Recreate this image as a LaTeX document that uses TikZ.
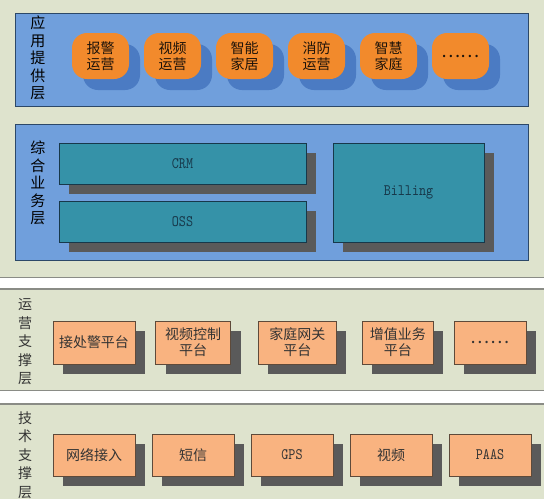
\documentclass[tikz,border=0pt]{standalone}
\usepackage{fontspec}
\setmainfont{Noto Sans CJK SC}
\newfontfamily\latinmono[FakeStretch=0.84, Extension=.otf]{lmmono10-regular}
\usetikzlibrary{shadows}
\definecolor{bgc}{HTML}{DEE3CD}
\definecolor{sepln}{HTML}{8A8C86}
\definecolor{panelc}{HTML}{709FDC}
\definecolor{panelln}{HTML}{2C4868}
\definecolor{appc}{HTML}{F28A2C}
\definecolor{appsh}{HTML}{4B7BC3}
\definecolor{tealc}{HTML}{3592A8}
\definecolor{tealln}{HTML}{17384A}
\definecolor{darksh}{HTML}{5A5A5A}
\definecolor{salc}{HTML}{F9B380}
\definecolor{salln}{HTML}{5E4A3A}
\tikzset{
  txt/.style={font=\fontsize{14}{16}\selectfont},
  mono/.style={font=\latinmono\fontsize{16}{18}\selectfont},
  lab/.style={align=center, inner sep=0pt, font=\fontsize{15}{17.5}\selectfont, text=black},
  sublab/.style={lab, font=\fontsize{14}{18.5}\selectfont, text=black!80},
  layer/.style={draw=panelln, fill=panelc, line width=0.9pt},
  sep/.style={draw=sepln, line width=1.2pt},
  % rounded orange boxes of the top layer
  app/.style={txt, fill=appc, rounded corners=15pt, minimum width=57pt, minimum height=46pt,
    align=center, inner sep=0pt, text=black!85!brown,
    drop shadow={shadow xshift=11pt, shadow yshift=-11pt, fill=appsh, opacity=1}},
  % teal blocks of the business layer
  biz/.style={mono, draw=tealln, fill=tealc, line width=0.8pt, inner sep=0pt, text=tealln,
    drop shadow={shadow xshift=10pt, shadow yshift=-10pt, fill=darksh, opacity=1}},
  % salmon platform boxes
  plat/.style={txt, draw=salln, fill=salc, line width=0.8pt, inner sep=0pt, align=center,
    text=black!80, drop shadow={shadow xshift=10pt, shadow yshift=-10pt, fill=darksh, opacity=1}},
  dots/.style={font=\fontsize{18}{18}\selectfont},
}
\begin{document}
\begin{tikzpicture}[x=1pt, y=-1pt]
  % --- background and separators ---
  \fill[bgc] (0,0) rectangle (544,499);
  \useasboundingbox (0,0) rectangle (544,499);
  \fill[white] (0,278) rectangle (544,289);
  \draw[sep] (0,277.5) -- (544,277.5);
  \draw[sep] (0,289) -- (544,289);
  \fill[white] (0,391) rectangle (544,404);
  \draw[sep] (0,390.5) -- (544,390.5);
  \draw[sep] (0,404) -- (544,404);

  % --- application layer ---
  \draw[layer] (15,13) rectangle (528,106);
  \node[lab] (appl) at (38,58) {应\\用\\提\\供\\层};
  \node[app] (a1) at (100.5,56) {报警\\运营};
  \node[app] (a2) at (172.5,56) {视频\\运营};
  \node[app] (a3) at (244.5,56) {智能\\家居};
  \node[app] (a4) at (316.5,56) {消防\\运营};
  \node[app] (a5) at (388.5,56) {智慧\\家庭};
  \node[app, dots] (a6) at (460.5,56) {……};

  % --- business layer ---
  \draw[layer] (15,124) rectangle (528,260);
  \node[lab] (bizl) at (38,183) {综\\合\\业\\务\\层};
  \node[biz, minimum width=247pt, minimum height=41pt] (crm) at (182.5,163.5) {CRM};
  \node[biz, minimum width=247pt, minimum height=41pt] (oss) at (182.5,221.5) {OSS};
  \node[biz, minimum width=151pt, minimum height=99pt] (bill) at (408.5,192.5) {Billing};

  % --- operation support layer ---
  \node[sublab] (opl) at (25,342) {运\\营\\支\\撑\\层};
  \node[plat, minimum width=82pt, minimum height=43pt] (p1) at (94,342.5) {接处警平台};
  \node[plat, minimum width=75pt, minimum height=43pt] (p2) at (193,342.5) {视频控制\\平台};
  \node[plat, minimum width=78pt, minimum height=43pt] (p3) at (297.3,342.5) {家庭网关\\平台};
  \node[plat, minimum width=71pt, minimum height=43pt] (p4) at (397.8,342.5) {增值业务\\平台};
  \node[plat, dots, minimum width=72pt, minimum height=43pt] (p5) at (490,342.5) {……};

  % --- technical support layer ---
  \node[sublab] (tel) at (25,455) {技\\术\\支\\撑\\层};
  \node[plat, minimum width=82pt, minimum height=42pt] (t1) at (94,455) {网络接入};
  \node[plat, minimum width=82pt, minimum height=42pt] (t2) at (193,455) {短信};
  \node[plat, mono, minimum width=82pt, minimum height=42pt] (t3) at (292,455) {GPS};
  \node[plat, minimum width=82pt, minimum height=42pt] (t4) at (391,455) {视频};
  \node[plat, mono, minimum width=82pt, minimum height=42pt] (t5) at (490,455) {PAAS};
\end{tikzpicture}
\end{document}
